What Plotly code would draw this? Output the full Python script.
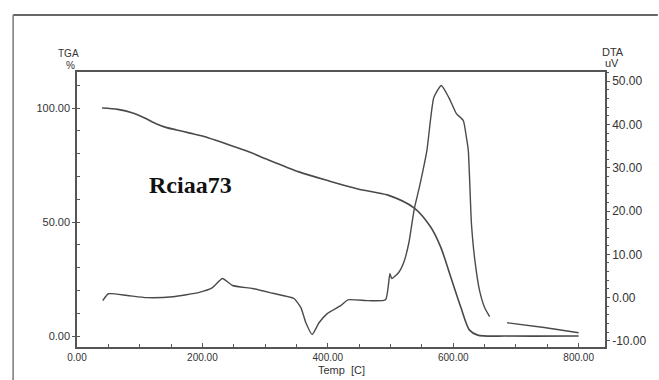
import plotly.graph_objects as go

# TGA (%) vs temperature (C)
tga_temp = [40, 65, 89, 108, 127, 143, 159, 180, 200, 243, 275, 302, 354, 402, 448, 496, 538, 564, 580, 596, 612, 626, 639, 686, 800]
tga_val = [100, 99.4, 97.8, 95.6, 93.0, 91.4, 90.4, 89.0, 87.7, 83.8, 80.7, 77.6, 72.0, 68.0, 64.5, 61.8, 56.1, 47.8, 39, 25.9, 12.7, 2.6, 0.4, 0, 0]

# DTA (uV) vs temperature (C); None marks the gap in the recorded trace
dta_temp = [41, 50, 80, 111, 153, 195, 216, 232, 248, 280, 312, 346, 357, 365, 375, 386, 399, 421, 432, 465, 492, 499, 502, 513, 521, 529, 538, 546, 558, 569, 581, 593, 605, 616, 621, 624, 629, 634, 642, 650, 658, None, 686, 745, 800]
dta_val = [-0.7, 0.9, 0.5, 0, 0.2, 1.2, 2.3, 4.4, 2.8, 2.1, 1.0, -0.2, -2.3, -5.8, -8.5, -5.8, -3.7, -1.8, -0.5, -0.7, -0.5, 5.5, 4.4, 5.8, 8.1, 12.5, 20.6, 25.5, 34, 46.2, 49, 46.2, 42.5, 40.9, 37, 34, 17.1, 9.2, 1.6, -2.3, -4.4, None, -5.8, -6.9, -8.1]

x_ticks = [0, 200, 400, 600, 800]
x_ticklabels = ["0.00", "200.00", "400.00", "600.00", "800.00"]
tga_ticks = [0, 50, 100]
tga_ticklabels = ["0.00", "50.00", "100.00"]
dta_ticks = [-10, 0, 10, 20, 30, 40, 50]
dta_ticklabels = ["-10.00", "0.00", "10.00", "20.00", "30.00", "40.00", "50.00"]

LINE = "#4a4a4a"
AX = "#555555"
TXT = "#333333"
FONT = "Liberation Sans, Arial, sans-serif"

fig = go.Figure()
fig.add_trace(go.Scatter(x=tga_temp, y=tga_val, mode="lines", yaxis="y",
                         line=dict(color=LINE, width=1.6, shape="spline", smoothing=0.8),
                         showlegend=False, hoverinfo="skip"))
fig.add_trace(go.Scatter(x=dta_temp, y=dta_val, mode="lines", yaxis="y2",
                         line=dict(color=LINE, width=1.4, shape="spline", smoothing=0.5),
                         connectgaps=False, showlegend=False, hoverinfo="skip"))

tickfont = dict(family=FONT, size=11, color=TXT)
fig.update_layout(
    width=659, height=380,
    margin=dict(l=77, r=52, t=72, b=33),
    paper_bgcolor="white", plot_bgcolor="white",
    xaxis=dict(range=[0, 842], tickvals=x_ticks, ticktext=x_ticklabels,
               showgrid=False, zeroline=False, showline=True, linecolor=AX, linewidth=1.5,
               mirror=True, ticks="inside", ticklen=4, tickcolor=AX,
               tickfont=dict(family=FONT, size=10, color=TXT),
               minor=dict(dtick=50, ticks="inside", ticklen=3, tickcolor=AX)),
    yaxis=dict(range=[-4.8, 115.8], tickvals=tga_ticks, ticktext=tga_ticklabels,
               showgrid=False, zeroline=False, showline=True, linecolor=AX, linewidth=1.5,
               ticks="outside", ticklen=3, tickcolor=AX, tickfont=tickfont,
               minor=dict(dtick=10, tick0=0, ticks="inside", ticklen=3, tickcolor=AX)),
    yaxis2=dict(range=[-11.4, 52.1], tickvals=dta_ticks, ticktext=dta_ticklabels,
                overlaying="y", side="right",
                showgrid=False, zeroline=False, showline=True, linecolor=AX, linewidth=1.5,
                ticks="outside", ticklen=3, tickcolor=AX,
                tickfont=dict(family=FONT, size=12, color=TXT),
                minor=dict(dtick=2, tick0=0, ticks="outside", ticklen=2, tickcolor=AX)),
)

def note(text, x, y, size=10, family=FONT, bold=False, color=TXT):
    fig.add_annotation(text=f"<b>{text}</b>" if bold else text, x=x, y=y,
                       xref="paper", yref="paper", showarrow=False,
                       xanchor="center", yanchor="middle",
                       font=dict(family=family, size=size, color=color))

note("TGA", -0.017, 1.069, size=10)
note("%", -0.013, 1.022, size=10)
note("DTA", 1.015, 1.073, size=11)
note("uV", 1.013, 1.033, size=11)
note("Temp  [C]", 0.5, -0.083, size=11)
note("Rciaa73", 0.215, 0.589, size=24, family="Liberation Serif, Times New Roman, serif", bold=True, color="#111111")

# scanned page frame
fig.add_shape(type="line", xref="paper", yref="paper", x0=-0.121, x1=1.1, y0=1.207, y1=1.207,
              line=dict(color="#666666", width=2))
fig.add_shape(type="line", xref="paper", yref="paper", x0=-0.121, x1=-0.121, y0=1.207, y1=-0.13,
              line=dict(color="#777777", width=1.5))

fig.write_html("out.html")
